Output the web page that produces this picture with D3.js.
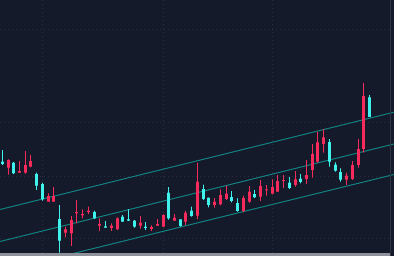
<!DOCTYPE html>
<html>
<head>
<meta charset="utf-8">
<script src="https://cdn.jsdelivr.net/npm/d3@7"></script>
<style>
  html, body { margin: 0; padding: 0; background: #141a2a; overflow: hidden; }
</style>
</head>
<body>
<div id="chart"></div>
<script>
// Candle data (open, high, low, close), one entry per bar
var opens  = [29.43,28.83,29.33,28.33,28.33,28.93,28.20,27.20,25.43,25.43,
              23.70,22.33,22.27,24.27,24.07,24.40,24.40,23.03,22.97,22.80,
              22.67,23.93,23.67,23.53,23.03,22.93,22.70,23.03,22.93,26.33,
              23.53,23.67,23.43,24.53,24.03,26.70,25.83,25.10,25.17,25.70,
              25.90,25.30,24.50,25.43,26.20,25.93,26.60,26.23,26.43,27.50,
              27.33,27.10,27.73,27.70,28.60,29.43,31.20,31.40,29.13,28.40,
              27.63,27.70,29.10,30.70,35.87];
var highs  = [30.60,29.67,29.40,29.50,30.50,30.10,28.33,27.33,26.27,26.90,
              25.10,22.93,24.00,25.60,24.67,24.93,24.53,23.77,23.50,23.27,
              23.87,24.10,24.67,23.60,24.00,23.40,23.07,23.70,24.17,26.90,
              24.20,23.67,24.53,24.93,29.33,27.13,25.83,25.80,26.67,27.03,
              26.50,25.77,26.03,27.00,26.60,27.60,27.10,27.67,28.10,28.10,
              27.90,28.50,28.20,29.60,31.20,32.43,32.67,31.70,29.37,28.77,
              28.33,29.50,31.70,37.30,36.10];
var lows   = [29.10,28.13,28.20,28.33,28.23,28.87,26.60,25.53,25.43,25.43,
              20.33,21.87,21.00,23.27,23.77,24.20,23.70,22.50,22.83,22.50,
              22.60,23.43,23.50,22.83,22.73,22.60,22.50,23.03,22.90,23.63,
              23.53,22.93,23.10,23.93,23.67,25.60,24.87,24.83,25.07,25.60,
              25.37,24.43,24.37,25.33,25.80,25.50,26.03,26.17,26.43,26.80,
              26.70,26.93,27.27,27.20,27.83,29.33,30.33,28.93,28.43,27.43,
              27.10,27.60,28.83,30.33,33.90];
var closes = [29.20,29.60,28.27,28.50,29.10,29.50,27.03,25.67,26.00,26.00,
              21.53,22.67,23.60,24.40,24.20,24.53,23.77,23.20,22.83,23.03,
              23.77,23.43,23.53,22.93,23.33,22.80,22.90,23.20,24.10,23.77,
              23.83,23.00,24.33,24.00,27.43,25.70,25.10,25.43,26.10,26.23,
              25.50,24.50,25.80,26.43,25.87,27.00,26.67,26.90,27.50,27.60,
              26.80,27.67,27.40,28.10,30.20,31.37,31.87,29.43,28.53,27.63,
              28.03,29.10,30.70,36.00,33.90];

// Regression channel (bar index at both ends, price of each line)
var channelIdx   = [-0.4, 68.25];
var channelUpper = [24.65, 34.38];
var channelMid   = [21.45, 31.20];
var channelLower = [18.45, 28.15];

// Grid ticks
var priceTicks = [21.8, 28.0, 33.4, 42.7];
var timeTicks = [7, 28, 47];

var svgWidth = 394;
var svgHeight = 256;
var plotWidth = 390;

var candles = opens.map(function(o, i) {
  return { i: i, open: o, high: highs[i], low: lows[i], close: closes[i] };
});

var svg = d3.select("#chart")
  .append("svg")
  .attr("width", svgWidth)
  .attr("height", svgHeight)
  .style("display", "block");

svg.append("rect")
  .attr("width", svgWidth)
  .attr("height", svgHeight)
  .attr("fill", "#141a2a");

// Scales
var xScale = d3.scaleLinear()
  .domain([-0.4, 67.55])
  .range([0, plotWidth]);

var yScale = d3.scaleLinear()
  .domain([20, 45.6])
  .range([svgHeight, 0]);

// snap bar centres to pixel centres so wicks stay crisp
var px = function(i) { return Math.floor(xScale(i)) + 0.5; };

// Dotted grid from the axes
var gridX = svg.append("g")
  .call(d3.axisBottom(xScale).tickValues(timeTicks).tickSize(svgHeight).tickFormat(""));
gridX.selectAll(".tick").attr("transform", function(d) { return "translate(" + px(d) + ",0)"; });

var gridY = svg.append("g")
  .call(d3.axisLeft(yScale).tickValues(priceTicks).tickSize(-plotWidth).tickFormat(""));
gridY.selectAll(".tick").attr("transform", function(d) { return "translate(0," + (Math.round(yScale(d)) + 0.5) + ")"; });

svg.selectAll(".domain").remove();
svg.selectAll(".tick line")
  .attr("stroke", "#282e40")
  .attr("stroke-dasharray", "1,3");

// Channel lines
var line = d3.line()
  .x(function(d) { return xScale(d[0]); })
  .y(function(d) { return yScale(d[1]); });

[channelUpper, channelMid, channelLower].forEach(function(c) {
  svg.append("path")
    .attr("d", line([[channelIdx[0], c[0]], [channelIdx[1], c[1]]]))
    .attr("fill", "none")
    .attr("stroke", "#12908d")
    .attr("stroke-width", 1);
});

// Candles: red = rising, cyan = falling
var upColor = "#f72a5c";
var downColor = "#40f2ec";

var g = svg.selectAll(".candle")
  .data(candles)
  .enter()
  .append("g")
  .attr("class", "candle");

g.append("line")
  .attr("x1", function(d) { return px(d.i); })
  .attr("x2", function(d) { return px(d.i); })
  .attr("y1", function(d) { return yScale(d.high); })
  .attr("y2", function(d) { return yScale(d.low); })
  .attr("stroke", function(d) { return d.close >= d.open ? upColor : downColor; })
  .attr("stroke-width", 1);

g.append("rect")
  .attr("x", function(d) { return px(d.i) - 1.5; })
  .attr("y", function(d) { return yScale(Math.max(d.open, d.close)); })
  .attr("width", 3)
  .attr("height", function(d) { return Math.max(1, Math.abs(yScale(d.open) - yScale(d.close))); })
  .attr("fill", function(d) { return d.close >= d.open ? upColor : downColor; });

// Price axis border and bottom strip
svg.append("line")
  .attr("x1", plotWidth + 0.5)
  .attr("x2", plotWidth + 0.5)
  .attr("y1", 0)
  .attr("y2", svgHeight)
  .attr("stroke", "#2f3443");

svg.append("rect")
  .attr("x", 0)
  .attr("y", 253)
  .attr("width", plotWidth)
  .attr("height", 3)
  .attr("fill", "#8e919a");
</script>
</body>
</html>
